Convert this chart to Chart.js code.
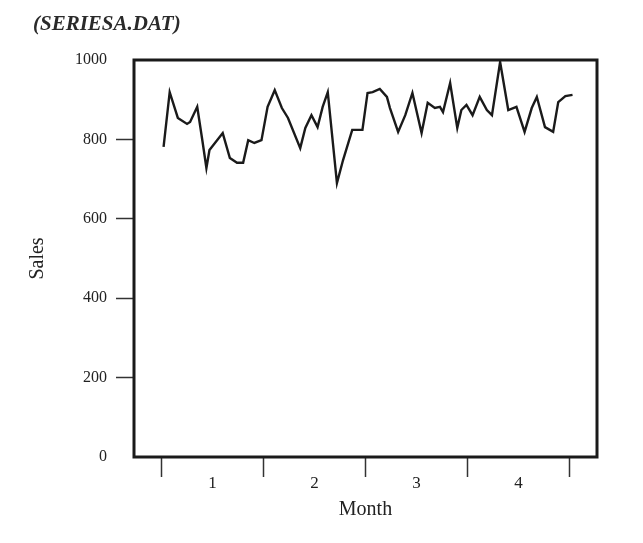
<!DOCTYPE html>
<html>
<head>
<meta charset="utf-8">
<script src="https://cdn.jsdelivr.net/npm/chart.js@4/dist/chart.umd.min.js"></script>
<style>
  html, body { margin: 0; padding: 0; background: #ffffff; }
  #wrap { width: 643px; height: 543px; }
</style>
</head>
<body>
<div id="wrap"><canvas id="chart" width="643" height="543"></canvas></div>
<script>
// Sales series: position in months (0 = start of month 1) and sales value
const weekPos = [0.02,0.08,0.16,0.25,0.28,0.35,0.40,0.44,0.47,0.60,
                 0.67,0.74,0.80,0.85,0.91,0.98,1.04,1.11,1.18,1.24,
                 1.36,1.41,1.47,1.53,1.58,1.63,1.72,1.78,1.87,1.97,
                 2.02,2.07,2.14,2.21,2.24,2.32,2.39,2.46,2.55,2.61,
                 2.68,2.73,2.76,2.83,2.90,2.94,2.99,3.05,3.12,3.19,
                 3.24,3.32,3.40,3.48,3.56,3.63,3.68,3.76,3.84,3.89,
                 3.96,4.03];
const sales = [781,919,854,839,844,882,798,728,773,816,
               753,741,741,798,791,798,882,924,879,854,
               778,829,861,831,882,919,690,748,824,824,
               917,919,927,907,879,819,861,917,816,892,
               879,882,869,942,829,874,887,861,907,874,
               861,995,874,882,819,879,907,831,819,894,
               909,912];
const monthLabels = ['1', '2', '3', '4'];
const monthBounds = [0, 1, 2, 3, 4];
const yTicks = [0, 200, 400, 600, 800, 1000];
const chartTitle = '(SERIESA.DAT)';

const serif = '"Liberation Serif", "DejaVu Serif", serif';
const ink = '#1a1a1a';

// Frame around the plotting area and the file name caption
const framePlugin = {
  id: 'frame',
  afterDatasetsDraw(chart) {
    const { ctx, chartArea: a } = chart;
    ctx.save();
    ctx.strokeStyle = ink;
    ctx.lineWidth = 3;
    ctx.strokeRect(a.left, a.top, a.right - a.left, a.bottom - a.top);
    ctx.restore();
  },
  afterDraw(chart) {
    const { ctx } = chart;
    ctx.save();
    ctx.fillStyle = '#2a2a2a';
    ctx.font = 'italic bold 21px ' + serif;
    ctx.textBaseline = 'middle';
    ctx.textAlign = 'left';
    ctx.fillText(chartTitle, 33, 25);
    ctx.restore();
  }
};

new Chart(document.getElementById('chart'), {
  type: 'line',
  data: {
    datasets: [{
      data: weekPos.map((x, i) => ({ x, y: sales[i] })),
      borderColor: ink,
      borderWidth: 2.4,
      pointRadius: 0,
      tension: 0,
      fill: false
    }]
  },
  options: {
    responsive: false,
    animation: false,
    layout: { padding: { left: 20, right: 46, top: 60, bottom: 0 } },
    plugins: { legend: { display: false }, title: { display: false }, tooltip: { enabled: false } },
    scales: {
      x: {
        type: 'linear',
        min: -0.27,
        max: 4.27,
        afterBuildTicks(scale) {
          const t = [];
          monthBounds.forEach((b, i) => {
            t.push({ value: b });
            if (i < monthLabels.length) t.push({ value: b + 0.5 });
          });
          scale.ticks = t;
        },
        afterFit(scale) { scale.height = 86; },
        border: { display: false },
        grid: {
          drawOnChartArea: false,
          drawTicks: true,
          tickLength: 20,
          tickWidth: 1.5,
          tickColor: (c) => (c.tick && Number.isInteger(c.tick.value)) ? '#333' : 'rgba(0,0,0,0)'
        },
        ticks: {
          autoSkip: false,
          maxRotation: 0,
          padding: -4,
          color: '#222',
          font: { family: serif, size: 17 },
          callback: (v) => {
            const i = Math.floor(v);
            return Number.isInteger(v) ? '' : monthLabels[i];
          }
        },
        title: {
          display: true,
          text: 'Month',
          color: '#222',
          font: { family: serif, size: 20 },
          padding: { top: 0, bottom: 21 }
        }
      },
      y: {
        min: 0,
        max: 1000,
        afterBuildTicks(scale) { scale.ticks = yTicks.map(v => ({ value: v })); },
        afterFit(scale) { scale.width = 114; },
        border: { display: false },
        grid: {
          drawOnChartArea: false,
          drawTicks: true,
          tickLength: 18,
          tickWidth: 1.5,
          tickColor: (c) => (c.tick && (c.tick.value === 0 || c.tick.value === 1000)) ? 'rgba(0,0,0,0)' : '#333'
        },
        ticks: {
          padding: 9,
          color: '#222',
          font: { family: serif, size: 16 },
          callback: (v) => String(v)
        },
        title: {
          display: true,
          text: 'Sales',
          color: '#222',
          font: { family: serif, size: 20 },
          padding: { top: 6, bottom: 0 }
        }
      }
    }
  },
  plugins: [framePlugin]
});
</script>
</body>
</html>
